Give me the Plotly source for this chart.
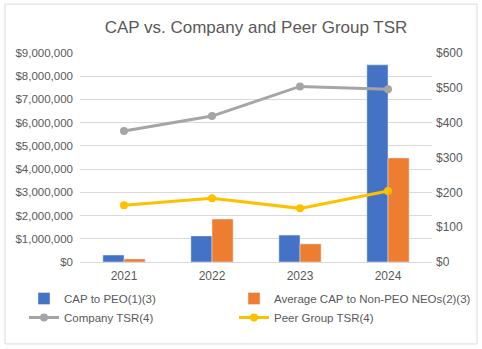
import plotly.graph_objects as go

years = ["2021", "2022", "2023", "2024"]
cap_peo = [300000, 1120000, 1160000, 8490000]
cap_neo = [130000, 1850000, 780000, 4480000]
company_tsr = [376, 419, 504, 496]
peer_tsr = [163, 183, 154, 204]

font_family = "Liberation Sans"
txt = "#595959"

fig = go.Figure()
fig.add_trace(go.Bar(x=years, y=cap_peo, name="CAP to PEO(1)(3)", marker_color="#4472c4",
                     yaxis="y", legend="legend"))
fig.add_trace(go.Bar(x=years, y=cap_neo, name="Average CAP to Non-PEO NEOs(2)(3)", marker_color="#ed7d31",
                     yaxis="y", legend="legend2"))
fig.add_trace(go.Scatter(x=years, y=company_tsr, name="Company TSR(4)", mode="lines+markers",
                         line=dict(color="#a5a5a5", width=3), marker=dict(size=8, color="#a5a5a5"),
                         yaxis="y2", legend="legend"))
fig.add_trace(go.Scatter(x=years, y=peer_tsr, name="Peer Group TSR(4)", mode="lines+markers",
                         line=dict(color="#ffc000", width=3), marker=dict(size=8, color="#ffc000"),
                         yaxis="y2", legend="legend2"))

legend_common = dict(orientation="v", xref="container", yref="container", xanchor="left",
                     y=1 - 284 / 349, yanchor="top", font=dict(size=11.5, color=txt),
                     itemwidth=30, tracegroupgap=0, bgcolor="rgba(0,0,0,0)")

fig.update_layout(
    width=482, height=349,
    margin=dict(l=80, r=50, t=53, b=87, autoexpand=False),
    paper_bgcolor="white", plot_bgcolor="white",
    font=dict(family=font_family, size=12, color=txt),
    title=dict(text="CAP vs. Company and Peer Group TSR", x=0.5, xref="paper", xanchor="center",
               y=1 - 27 / 349, yanchor="middle", font=dict(size=17, color=txt)),
    barmode="group", bargap=0.52, bargroupgap=0,
    xaxis=dict(showgrid=False, showline=True, linecolor="#d9d9d9", ticks="", ticklabelstandoff=3,
               tickfont=dict(size=12, color=txt)),
    yaxis=dict(range=[0, 9000000], dtick=1000000, tickformat="$,.0f", showgrid=True, gridcolor="#d9d9d9",
               zeroline=False, ticks="", ticklabelstandoff=6, tickfont=dict(size=11.5, color=txt)),
    yaxis2=dict(range=[0, 600], dtick=100, tickprefix="$", overlaying="y", side="right", showgrid=False,
                zeroline=False, ticks="", ticklabelstandoff=3, tickfont=dict(size=12, color=txt)),
    legend=dict(x=24 / 482, **legend_common),
    legend2=dict(x=234 / 482, **legend_common),
    showlegend=True,
    shapes=[dict(type="rect", xref="paper", yref="paper", x0=-0.213, x1=1.128, y0=-0.392, y1=1.234,
                 line=dict(color="#d9d9d9", width=1), fillcolor="rgba(0,0,0,0)", layer="below")],
)

fig.write_html("out.html")
